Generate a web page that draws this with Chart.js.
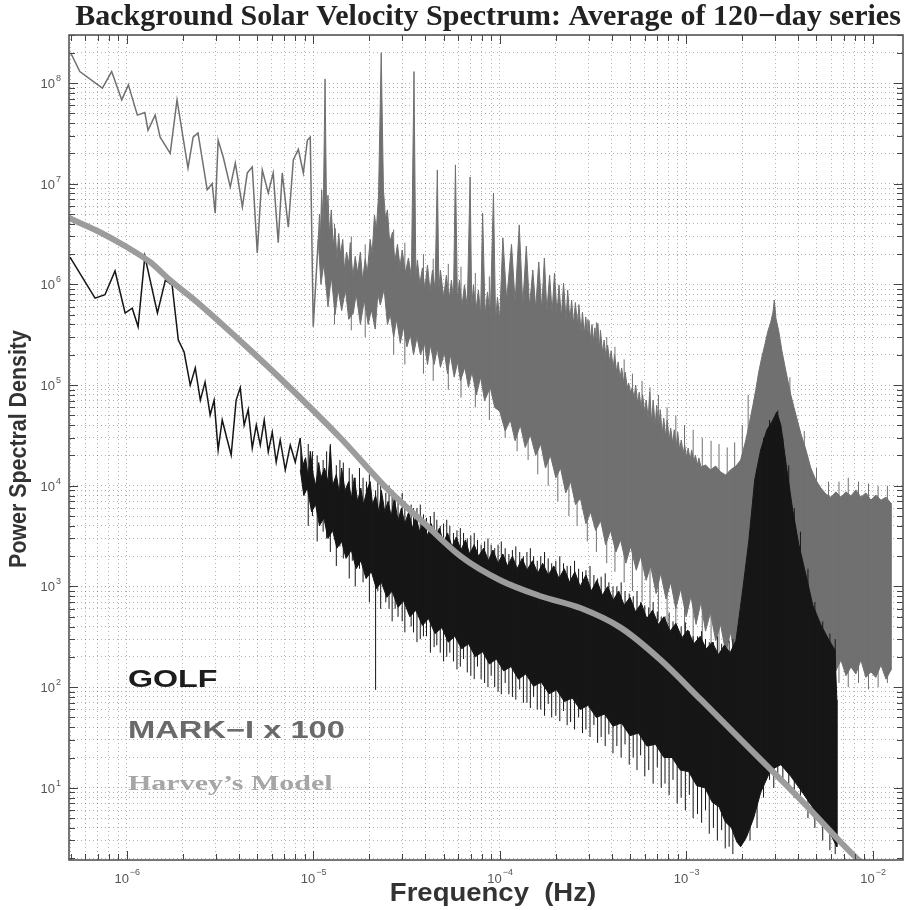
<!DOCTYPE html>
<html>
<head>
<meta charset="utf-8">
<script src="https://cdn.jsdelivr.net/npm/chart.js@4.4.0/dist/chart.umd.min.js"></script>
<style>
  html, body { margin: 0; padding: 0; background: #ffffff; }
  canvas { display: block; }
</style>
</head>
<body>
<canvas id="spectrum" width="909" height="910"></canvas>
<script>
// ---- Spectrum data: [frequency (Hz), power spectral density] ----

// MARK-I x 100, low-frequency part (single trace)
const markLow = [
  [5.0e-7, 2.0e8], [5.6e-7, 1.3e8], [7.4e-7, 8.9e7], [8.3e-7, 1.3e8], [9.4e-7, 6.8e7],
  [1.02e-6, 9.6e7], [1.14e-6, 4.8e7], [1.25e-6, 5.1e7], [1.30e-6, 3.4e7], [1.42e-6, 4.8e7],
  [1.51e-6, 2.9e7], [1.71e-6, 2.0e7], [1.86e-6, 6.8e7], [2.13e-6, 1.43e7], [2.27e-6, 2.9e7],
  [2.41e-6, 3.2e7], [2.70e-6, 8.7e6], [2.87e-6, 1.0e7], [2.98e-6, 5.1e6], [3.09e-6, 2.7e7],
  [3.29e-6, 1.84e7], [3.59e-6, 9.3e6], [3.82e-6, 1.6e7], [4.17e-6, 5.9e6], [4.43e-6, 1.28e7],
  [4.71e-6, 1.47e7], [5.01e-6, 2.05e6], [5.33e-6, 1.37e7], [5.74e-6, 8.1e6], [6.10e-6, 1.28e7],
  [6.49e-6, 2.6e6], [6.82e-6, 1.28e7], [7.35e-6, 3.7e6], [7.82e-6, 1.72e7], [8.32e-6, 2.2e7],
  [8.85e-6, 1.28e7], [9.30e-6, 2.7e7], [9.64e-6, 2.9e7], [1.0e-5, 3.8e5], [1.064e-5, 2.8e6]
];

// MARK-I x 100, upper edge of the dense part (daily harmonics show as spikes)
const markUpper = [
  [1.064e-5, 2.8e6], [1.08e-5, 5.0e6], [1.09e-5, 2.6e6], [1.11e-5, 8.7e6], [1.13e-5, 4.0e6],
  [1.157e-5, 1.1e8], [1.18e-5, 4.5e6], [1.20e-5, 7.7e6], [1.22e-5, 3.2e6], [1.25e-5, 5.5e6],
  [1.28e-5, 2.4e6], [1.31e-5, 3.6e6], [1.34e-5, 1.8e6], [1.37e-5, 3.2e6], [1.40e-5, 2.0e6],
  [1.44e-5, 2.8e6], [1.47e-5, 1.4e6], [1.51e-5, 2.1e6], [1.55e-5, 1.6e6], [1.58e-5, 2.6e6],
  [1.63e-5, 1.2e6], [1.68e-5, 1.9e6], [1.73e-5, 1.3e6], [1.79e-5, 2.1e6], [1.84e-5, 1.1e6],
  [1.90e-5, 1.8e6], [1.95e-5, 1.3e6], [2.02e-5, 2.8e6], [2.07e-5, 2.0e6], [2.13e-5, 4.9e6],
  [2.18e-5, 3.5e6], [2.24e-5, 7.7e6], [2.315e-5, 2.0e8], [2.38e-5, 8.7e6], [2.44e-5, 4.5e6],
  [2.50e-5, 5.5e6], [2.57e-5, 2.6e6], [2.66e-5, 3.3e6], [2.74e-5, 1.7e6], [2.83e-5, 2.5e6],
  [2.92e-5, 1.5e6], [3.0e-5, 2.2e6], [3.12e-5, 1.3e6], [3.24e-5, 1.83e6], [3.36e-5, 1.2e6],
  [3.47e-5, 1.3e8], [3.55e-5, 1.2e6], [3.62e-5, 1.75e6], [3.73e-5, 1.0e6], [3.85e-5, 1.46e6],
  [3.97e-5, 9.0e5], [4.10e-5, 1.56e6], [4.23e-5, 8.5e5], [4.36e-5, 1.39e6], [4.50e-5, 9.0e5],
  [4.63e-5, 1.37e7], [4.72e-5, 9.0e5], [4.81e-5, 1.39e6], [5.0e-5, 7.5e5], [5.18e-5, 1.24e6],
  [5.35e-5, 7.0e5], [5.51e-5, 1.1e6], [5.65e-5, 7.0e5], [5.79e-5, 1.54e7], [5.93e-5, 7.0e5],
  [6.08e-5, 1.1e6], [6.27e-5, 6.0e5], [6.47e-5, 9.9e5], [6.7e-5, 6.0e5], [6.94e-5, 1.17e7],
  [7.08e-5, 6.0e5], [7.23e-5, 9.9e5], [7.45e-5, 5.5e5], [7.69e-5, 8.8e5], [7.9e-5, 5.0e5],
  [8.10e-5, 5.1e6], [8.35e-5, 5.0e5], [8.6e-5, 8.4e5], [8.9e-5, 4.8e5], [9.26e-5, 8.1e6],
  [9.5e-5, 4.5e5], [9.73e-5, 7.5e5], [1.0e-4, 4.5e5], [1.04e-4, 2.9e6], [1.09e-4, 7.0e5],
  [1.157e-4, 2.5e6], [1.21e-4, 6.7e5], [1.273e-4, 3.9e6], [1.33e-4, 6.3e5], [1.389e-4, 2.4e6],
  [1.445e-4, 6.0e5], [1.505e-4, 1.39e6], [1.56e-4, 5.8e5], [1.62e-4, 1.67e6], [1.68e-4, 5.6e5],
  [1.736e-4, 1.83e6], [1.79e-4, 5.4e5], [1.852e-4, 1.24e6], [1.91e-4, 5.3e5], [1.968e-4, 1.3e6],
  [2.03e-4, 5.0e5], [2.08e-4, 9.9e5], [2.14e-4, 4.7e5], [2.20e-4, 1.03e6], [2.27e-4, 4.4e5],
  [2.315e-4, 8.8e5], [2.38e-4, 4.3e5], [2.43e-4, 7.0e5], [2.49e-4, 4.0e5], [2.546e-4, 6.6e5],
  [2.62e-4, 3.8e5], [2.66e-4, 6.3e5], [2.73e-4, 3.4e5], [2.78e-4, 5.3e5], [2.84e-4, 3.15e5],
  [2.894e-4, 4.75e5], [2.96e-4, 3.0e5], [3.01e-4, 4.4e5], [3.07e-4, 2.8e5], [3.125e-4, 4.0e5],
  [3.19e-4, 2.7e5], [3.24e-4, 3.7e5], [3.31e-4, 2.5e5], [3.36e-4, 4.1e5], [3.43e-4, 2.3e5],
  [3.47e-4, 3.5e5], [3.56e-4, 2.1e5], [3.63e-4, 2.8e5], [3.72e-4, 1.86e5], [3.79e-4, 2.5e5],
  [3.89e-4, 1.7e5], [3.96e-4, 2.2e5], [4.06e-4, 1.48e5], [4.13e-4, 2.0e5], [4.24e-4, 1.35e5],
  [4.32e-4, 1.7e5], [4.42e-4, 1.18e5], [4.51e-4, 1.48e5], [4.62e-4, 1.05e5], [4.71e-4, 1.35e5],
  [4.83e-4, 9.4e4], [4.91e-4, 1.05e5], [5.04e-4, 8.5e4], [5.13e-4, 9.4e4], [5.26e-4, 7.5e4],
  [5.36e-4, 1.0e5], [5.49e-4, 6.6e4], [5.60e-4, 8.5e4], [5.74e-4, 5.9e4], [5.84e-4, 8.0e4],
  [5.99e-4, 5.4e4], [6.10e-4, 7.1e4], [6.26e-4, 4.7e4], [6.37e-4, 8.5e4], [6.53e-4, 4.3e4],
  [6.65e-4, 7.1e4], [6.82e-4, 4.0e4], [6.95e-4, 6.3e4], [7.12e-4, 3.6e4], [7.26e-4, 5.7e4],
  [7.44e-4, 3.3e4], [7.58e-4, 4.7e4], [7.77e-4, 3.05e4], [7.91e-4, 4.5e4], [8.11e-4, 2.85e4],
  [8.26e-4, 3.75e4], [8.47e-4, 2.66e4], [8.63e-4, 3.6e4], [8.84e-4, 2.43e4], [9.01e-4, 3.4e4],
  [9.23e-4, 2.27e4], [9.41e-4, 2.85e4], [9.64e-4, 2.12e4], [9.82e-4, 2.54e4], [1.003e-3, 1.93e4],
  [1.025e-3, 2.37e4], [1.05e-3, 1.8e4], [1.07e-3, 2.27e4], [1.10e-3, 1.72e4], [1.12e-3, 2.02e4],
  [1.15e-3, 1.61e4], [1.17e-3, 1.89e4], [1.20e-3, 1.54e4], [1.27e-3, 1.61e4], [1.35e-3, 1.44e4],
  [1.44e-3, 1.57e4], [1.53e-3, 1.37e4], [1.63e-3, 1.28e4], [1.73e-3, 1.44e4], [1.85e-3, 1.57e4],
  [1.96e-3, 1.8e4], [2.09e-3, 2.85e4], [2.17e-3, 4.0e4], [2.28e-3, 6.3e4], [2.36e-3, 8.9e4],
  [2.45e-3, 1.35e5], [2.54e-3, 1.86e5], [2.64e-3, 2.5e5], [2.74e-3, 3.4e5], [2.84e-3, 4.2e5],
  [2.92e-3, 5.3e5], [2.97e-3, 7.0e5], [3.03e-3, 4.6e5], [3.14e-3, 3.4e5], [3.26e-3, 2.2e5],
  [3.42e-3, 1.4e5], [3.64e-3, 8.0e4], [3.88e-3, 5.05e4], [4.12e-3, 3.3e4], [4.39e-3, 2.27e4],
  [4.66e-3, 1.5e4], [4.96e-3, 1.14e4], [5.28e-3, 9.5e3], [5.61e-3, 8.3e3], [5.97e-3, 7.7e3],
  [6.35e-3, 8.7e3], [6.76e-3, 7.7e3], [7.19e-3, 8.7e3], [7.65e-3, 7.9e3], [8.13e-3, 9.1e3],
  [8.65e-3, 7.7e3], [9.2e-3, 8.5e3], [9.79e-3, 7.2e3], [1.04e-2, 8.1e3], [1.108e-2, 7.2e3],
  [1.18e-2, 7.7e3], [1.254e-2, 6.7e3]
];

// MARK-I x 100, lower edge of the dense part
const markLower = [
  [1.064e-5, 2.8e6], [1.10e-5, 1.0e6], [1.14e-5, 1.6e6], [1.20e-5, 6.0e5], [1.25e-5, 1.2e6],
  [1.31e-5, 5.0e5], [1.36e-5, 9.0e5], [1.42e-5, 5.5e5], [1.49e-5, 8.8e5], [1.55e-5, 4.5e5],
  [1.64e-5, 5.2e5], [1.70e-5, 8.0e5], [1.79e-5, 4.0e5], [1.88e-5, 7.0e5], [1.97e-5, 4.0e5],
  [2.05e-5, 5.6e5], [2.15e-5, 3.6e5], [2.22e-5, 8.0e5], [2.29e-5, 6.25e5], [2.40e-5, 9.0e5],
  [2.50e-5, 4.0e5], [2.59e-5, 5.0e5], [2.70e-5, 3.0e5], [2.80e-5, 4.5e5], [2.93e-5, 2.6e5],
  [3.05e-5, 3.8e5], [3.18e-5, 2.4e5], [3.32e-5, 3.15e5], [3.45e-5, 2.0e5], [3.6e-5, 3.0e5],
  [3.76e-5, 2.0e5], [3.95e-5, 2.6e5], [4.1e-5, 1.6e5], [4.25e-5, 2.5e5], [4.45e-5, 1.6e5],
  [4.63e-5, 2.3e5], [4.81e-5, 1.5e5], [5.05e-5, 2.1e5], [5.25e-5, 1.3e5], [5.44e-5, 2.0e5],
  [5.7e-5, 1.2e5], [5.95e-5, 1.7e5], [6.16e-5, 1.1e5], [6.5e-5, 1.5e5], [6.8e-5, 9.5e4],
  [7.1e-5, 1.35e5], [7.5e-5, 8.0e4], [7.9e-5, 1.2e5], [8.3e-5, 7.0e4], [8.9e-5, 9.5e4],
  [9.4e-5, 6.0e4], [1.0e-4, 5.5e4], [1.07e-4, 3.5e4], [1.14e-4, 4.5e4], [1.21e-4, 2.8e4],
  [1.29e-4, 4.0e4], [1.37e-4, 2.4e4], [1.46e-4, 3.2e4], [1.56e-4, 2.0e4], [1.66e-4, 2.6e4],
  [1.76e-4, 1.5e4], [1.87e-4, 2.0e4], [2.0e-4, 1.2e4], [2.12e-4, 1.5e4], [2.26e-4, 8.5e3],
  [2.40e-4, 1.1e4], [2.55e-4, 6.5e3], [2.71e-4, 7.5e3], [2.9e-4, 4.2e3], [3.07e-4, 5.5e3],
  [3.27e-4, 3.6e3], [3.48e-4, 4.5e3], [3.7e-4, 2.6e3], [3.93e-4, 3.6e3], [4.2e-4, 2.2e3],
  [4.45e-4, 2.9e3], [4.75e-4, 1.7e3], [5.04e-4, 2.5e3], [5.4e-4, 1.45e3], [5.7e-4, 2.0e3],
  [6.1e-4, 1.15e3], [6.45e-4, 1.6e3], [6.9e-4, 8.5e2], [7.3e-4, 1.35e3], [7.8e-4, 7.5e2],
  [8.26e-4, 1.1e3], [8.8e-4, 6.0e2], [9.35e-4, 9.5e2], [1.0e-3, 5.0e2], [1.06e-3, 8.0e2],
  [1.13e-3, 4.2e2], [1.20e-3, 7.0e2], [1.27e-3, 3.6e2], [1.35e-3, 5.5e2], [1.44e-3, 2.9e2],
  [1.53e-3, 4.2e2], [1.63e-3, 2.2e2], [1.73e-3, 3.5e2], [1.85e-3, 1.8e2], [1.96e-3, 2.3e2],
  [2.09e-3, 1.5e2], [2.22e-3, 1.86e2], [2.51e-3, 2.94e2], [2.84e-3, 4.65e2], [3.22e-3, 7.3e2],
  [3.64e-3, 5.8e2], [4.12e-3, 4.15e2], [4.4e-3, 2.6e2], [4.66e-3, 3.3e2], [4.96e-3, 2.0e2],
  [5.28e-3, 2.6e2], [5.6e-3, 1.6e2], [5.97e-3, 2.34e2], [6.35e-3, 1.45e2], [6.76e-3, 1.86e2],
  [7.2e-3, 1.3e2], [7.65e-3, 1.59e2], [8.13e-3, 1.35e2], [8.65e-3, 1.86e2], [9.2e-3, 1.25e2],
  [9.79e-3, 1.42e2], [1.04e-2, 1.25e2], [1.108e-2, 1.66e2], [1.18e-2, 1.2e2], [1.254e-2, 1.48e2]
];

// MARK-I x 100, single-bin excursions: [frequency, low, high]
const markSpikes = [
  [1.3e-5, 4.0e5, 4.0e6], [1.6e-5, 3.5e5, 3.0e6], [1.9e-5, 3.0e5, 2.5e6], [2.7e-5, 2.0e5, 3.5e6],
  [3.1e-5, 1.6e5, 2.6e6], [3.9e-5, 1.3e5, 2.0e6], [4.4e-5, 1.1e5, 1.8e6], [5.3e-5, 9.0e4, 1.6e6],
  [6.2e-5, 7.5e4, 1.5e6], [7.4e-5, 6.0e4, 1.3e6], [8.8e-5, 4.5e4, 1.2e6], [1.07e-4, 3.0e4, 1.0e6],
  [1.24e-4, 2.2e4, 9.0e5], [1.42e-4, 1.8e4, 8.0e5], [1.6e-4, 1.3e4, 7.5e5], [1.82e-4, 1.0e4, 7.0e5],
  [2.05e-4, 7.0e3, 6.5e5], [2.35e-4, 5.0e3, 5.5e5], [2.6e-4, 4.0e3, 5.0e5], [2.95e-4, 2.8e3, 4.5e5],
  [3.3e-4, 2.2e3, 4.2e5], [3.75e-4, 1.7e3, 3.0e5], [4.15e-4, 1.4e3, 2.4e5], [4.65e-4, 1.1e3, 1.8e5],
  [5.15e-4, 9.0e2, 1.3e5], [5.8e-4, 7.0e2, 1.1e5], [6.4e-4, 5.5e2, 9.5e4], [7.1e-4, 4.5e2, 8.0e4],
  [7.9e-4, 3.6e2, 6.0e4], [8.8e-4, 3.0e2, 5.0e4], [9.8e-4, 2.6e2, 4.0e4], [1.09e-3, 2.0e2, 3.6e4],
  [1.22e-3, 1.6e2, 3.0e4], [1.36e-3, 1.4e2, 2.8e4], [1.5e-3, 1.2e2, 2.6e4], [1.66e-3, 1.0e2, 2.4e4],
  [1.82e-3, 1.1e2, 2.7e4], [2.0e-3, 1.2e2, 4.0e4], [2.15e-3, 1.4e2, 8.0e4], [3.6e-3, 3.0e2, 1.2e5],
  [4.3e-3, 2.0e2, 3.5e4], [5.0e-3, 1.6e2, 1.5e4], [5.8e-3, 1.3e2, 1.1e4], [6.6e-3, 1.1e2, 1.1e4],
  [7.4e-3, 1.0e2, 1.2e4], [8.4e-3, 1.1e2, 1.1e4], [9.5e-3, 95, 1.05e4], [1.07e-2, 1.0e2, 1.0e4],
  [1.2e-2, 1.1e2, 1.0e4]
];

// GOLF, low-frequency part (single trace)
const golfLow = [
  [4.96e-7, 1.87e6], [6.76e-7, 7.3e5], [7.64e-7, 7.9e5], [8.65e-7, 1.36e6], [9.8e-7, 5.2e5],
  [1.07e-6, 5.8e5], [1.15e-6, 3.8e5], [1.25e-6, 1.9e6], [1.46e-6, 5.2e5], [1.61e-6, 1.1e6],
  [1.75e-6, 9.9e5], [1.89e-6, 2.8e5], [2.03e-6, 2.13e5], [2.19e-6, 1.0e5], [2.33e-6, 1.48e5],
  [2.48e-6, 7.1e4], [2.63e-6, 1.07e5], [2.80e-6, 5.05e4], [2.94e-6, 7.1e4], [3.09e-6, 2.27e4],
  [3.25e-6, 4.5e4], [3.46e-6, 2.85e4], [3.63e-6, 2.02e4], [3.86e-6, 7.1e4], [4.06e-6, 9.4e4],
  [4.26e-6, 4.0e4], [4.48e-6, 5.7e4], [4.71e-6, 2.37e4], [4.95e-6, 4.0e4], [5.20e-6, 2.54e4],
  [5.46e-6, 4.5e4], [5.74e-6, 2.17e4], [6.03e-6, 3.4e4], [6.33e-6, 1.72e4], [6.65e-6, 2.85e4],
  [7.08e-6, 1.44e4], [7.53e-6, 2.54e4], [8.01e-6, 1.72e4], [8.52e-6, 2.98e4]
];

// GOLF, upper edge of the dense part
const golfUpper = [
  [8.52e-6, 2.98e4], [8.8e-6, 1.6e4], [9.1e-6, 1.9e4], [9.4e-6, 1.2e4], [9.64e-6, 2.2e4],
  [1.0e-5, 1.3e4], [1.03e-5, 1.0e4], [1.07e-5, 1.7e4], [1.1e-5, 1.2e4], [1.15e-5, 1.5e4],
  [1.2e-5, 1.1e4], [1.235e-5, 2.5e4], [1.27e-5, 1.0e4], [1.33e-5, 1.3e4], [1.38e-5, 8.5e3],
  [1.42e-5, 1.5e4], [1.48e-5, 9.0e3], [1.55e-5, 1.1e4], [1.6e-5, 7.5e3], [1.66e-5, 1.2e4],
  [1.73e-5, 7.0e3], [1.8e-5, 9.5e3], [1.86e-5, 6.5e3], [1.94e-5, 9.0e3], [2.02e-5, 1.1e4],
  [2.08e-5, 6.5e3], [2.16e-5, 8.0e3], [2.25e-5, 5.5e3], [2.32e-5, 9.0e3], [2.42e-5, 5.5e3],
  [2.52e-5, 7.0e3], [2.62e-5, 5.0e3], [2.72e-5, 7.5e3], [2.85e-5, 4.5e3], [2.97e-5, 6.0e3],
  [3.1e-5, 4.2e3], [3.25e-5, 5.5e3], [3.4e-5, 3.8e3], [3.55e-5, 5.0e3], [3.72e-5, 3.5e3],
  [3.9e-5, 4.5e3], [4.1e-5, 3.2e3], [4.3e-5, 4.2e3], [4.5e-5, 3.0e3], [4.75e-5, 3.8e3],
  [5.0e-5, 2.7e3], [5.25e-5, 3.4e3], [5.55e-5, 2.5e3], [5.85e-5, 3.1e3], [6.2e-5, 2.3e3],
  [6.55e-5, 2.9e3], [6.9e-5, 2.1e3], [7.3e-5, 2.6e3], [7.7e-5, 2.0e3], [8.2e-5, 2.4e3],
  [8.7e-5, 1.8e3], [9.2e-5, 2.3e3], [9.8e-5, 1.7e3], [1.04e-4, 2.1e3], [1.1e-4, 1.6e3],
  [1.17e-4, 2.0e3], [1.24e-4, 1.5e3], [1.32e-4, 1.9e3], [1.4e-4, 1.45e3], [1.5e-4, 1.8e3],
  [1.6e-4, 1.35e3], [1.7e-4, 1.7e3], [1.82e-4, 1.3e3], [1.95e-4, 1.6e3], [2.08e-4, 1.2e3],
  [2.22e-4, 1.5e3], [2.37e-4, 1.1e3], [2.53e-4, 1.4e3], [2.7e-4, 1.0e3], [2.9e-4, 1.3e3],
  [3.1e-4, 9.0e2], [3.32e-4, 1.15e3], [3.55e-4, 8.2e2], [3.8e-4, 1.0e3], [4.06e-4, 7.3e2],
  [4.35e-4, 9.0e2], [4.65e-4, 6.5e2], [5.0e-4, 7.8e2], [5.35e-4, 5.6e2], [5.75e-4, 6.8e2],
  [6.15e-4, 4.8e2], [6.6e-4, 5.8e2], [7.1e-4, 4.2e2], [7.6e-4, 5.0e2], [8.2e-4, 3.6e2],
  [8.8e-4, 4.3e2], [9.5e-4, 3.1e2], [1.02e-3, 3.7e2], [1.1e-3, 2.7e2], [1.19e-3, 3.2e2],
  [1.28e-3, 2.4e2], [1.38e-3, 2.8e2], [1.49e-3, 2.1e2], [1.6e-3, 2.6e2], [1.72e-3, 2.2e2],
  [1.85e-3, 2.9e2], [2.01e-3, 9.2e2], [2.17e-3, 2.9e3], [2.33e-3, 1.14e4], [2.51e-3, 2.27e4],
  [2.71e-3, 3.58e4], [2.92e-3, 4.5e4], [3.06e-3, 5.4e4], [3.22e-3, 4.0e4], [3.47e-3, 1.44e4],
  [3.73e-3, 5.7e3], [4.02e-3, 2.6e3], [4.39e-3, 1.30e3], [4.78e-3, 6.5e2], [5.28e-3, 4.15e2],
  [5.83e-3, 2.94e2], [6.28e-3, 2.34e2], [6.43e-3, 75]
];

// GOLF, lower edge of the dense part
const golfLower = [
  [8.52e-6, 1.44e4], [8.9e-6, 8.0e3], [9.3e-6, 9.5e3], [9.8e-6, 5.5e3], [1.03e-5, 6.5e3],
  [1.08e-5, 4.0e3], [1.14e-5, 4.8e3], [1.2e-5, 3.0e3], [1.27e-5, 3.6e3], [1.34e-5, 2.4e3],
  [1.42e-5, 2.8e3], [1.5e-5, 1.9e3], [1.6e-5, 2.3e3], [1.7e-5, 1.5e3], [1.8e-5, 1.8e3],
  [1.92e-5, 1.2e3], [2.05e-5, 1.4e3], [2.18e-5, 9.5e2], [2.32e-5, 1.1e3], [2.48e-5, 7.8e2],
  [2.65e-5, 9.0e2], [2.85e-5, 6.2e2], [3.05e-5, 7.2e2], [3.3e-5, 5.0e2], [3.55e-5, 5.8e2],
  [3.85e-5, 4.1e2], [4.15e-5, 4.8e2], [4.5e-5, 3.4e2], [4.9e-5, 3.9e2], [5.3e-5, 2.8e2],
  [5.75e-5, 3.2e2], [6.25e-5, 2.4e2], [6.8e-5, 2.7e2], [7.4e-5, 2.0e2], [8.1e-5, 2.25e2],
  [8.8e-5, 1.7e2], [9.6e-5, 1.9e2], [1.05e-4, 1.45e2], [1.15e-4, 1.6e2], [1.26e-4, 1.2e2],
  [1.38e-4, 1.35e2], [1.52e-4, 1.02e2], [1.67e-4, 1.12e2], [1.84e-4, 86], [2.02e-4, 94],
  [2.22e-4, 72], [2.45e-4, 78], [2.7e-4, 60], [2.98e-4, 66], [3.3e-4, 50],
  [3.65e-4, 54], [4.05e-4, 41], [4.5e-4, 44], [5.0e-4, 33], [5.55e-4, 35],
  [6.15e-4, 26], [6.85e-4, 27], [7.6e-4, 20], [8.4e-4, 20], [9.3e-4, 15],
  [1.03e-3, 14.5], [1.14e-3, 10.5], [1.26e-3, 10], [1.38e-3, 7.2], [1.5e-3, 6.5],
  [1.62e-3, 4.6], [1.75e-3, 4.0], [1.87e-3, 2.9], [1.96e-3, 2.6], [2.1e-3, 3.2],
  [2.3e-3, 5.0], [2.51e-3, 9.0], [2.84e-3, 15], [3.22e-3, 17], [3.64e-3, 13],
  [4.12e-3, 9.5], [4.66e-3, 6.8], [5.28e-3, 4.8], [5.97e-3, 3.4], [6.43e-3, 2.6]
];

// GOLF, single-bin excursions: [frequency, low, high]
const golfSpikes = [
  [9.4e-6, 4.0e3, 2.6e4], [9.9e-6, 5.0e3, 2.2e4], [1.05e-5, 2.8e3, 2.0e4], [1.13e-5, 3.5e3, 1.8e4],
  [1.18e-5, 3.0e3, 2.2e4], [1.235e-5, 2.2e3, 2.6e4], [1.33e-5, 1.6e3, 1.6e4], [1.39e-5, 2.5e3, 1.8e4],
  [1.45e-5, 1.9e3, 1.7e4], [1.56e-5, 1.2e3, 1.5e4], [1.62e-5, 1.8e3, 1.3e4], [1.68e-5, 1.0e3, 1.2e4],
  [1.77e-5, 1.5e3, 1.5e4], [1.85e-5, 1.1e3, 1.2e4], [1.93e-5, 1.2e3, 1.1e4], [2.0e-5, 7.0e2, 1.3e4],
  [2.16e-5, 94, 9.0e3], [2.22e-5, 9.0e2, 1.2e4], [2.3e-5, 6.0e2, 1.0e4], [2.45e-5, 7.0e2, 8.5e3],
  [2.55e-5, 6.0e2, 1.0e4], [2.65e-5, 4.5e2, 9.0e3], [2.75e-5, 6.0e2, 8.0e3], [2.85e-5, 5.0e2, 7.5e3],
  [3.0e-5, 4.5e2, 8.5e3], [3.1e-5, 3.5e2, 7.0e3], [3.35e-5, 4.0e2, 6.5e3], [3.45e-5, 3.5e2, 6.0e3],
  [3.6e-5, 2.8e2, 6.0e3], [3.75e-5, 3.0e2, 6.5e3], [3.9e-5, 3.2e2, 5.2e3], [4.05e-5, 3.2e2, 4.8e3],
  [4.25e-5, 2.2e2, 5.0e3], [4.45e-5, 2.5e2, 5.5e3], [4.6e-5, 2.6e2, 4.6e3], [4.8e-5, 2.2e2, 4.0e3],
  [5.0e-5, 1.8e2, 4.2e3], [5.2e-5, 2.0e2, 4.6e3], [5.4e-5, 2.2e2, 4.0e3], [5.65e-5, 1.8e2, 3.4e3],
  [5.9e-5, 1.5e2, 3.6e3], [6.15e-5, 1.6e2, 3.8e3], [6.4e-5, 1.9e2, 3.4e3], [6.7e-5, 1.4e2, 3.0e3],
  [7.0e-5, 1.3e2, 3.2e3], [7.3e-5, 1.2e2, 3.4e3], [7.6e-5, 1.6e2, 2.9e3], [7.95e-5, 1.2e2, 2.6e3],
  [8.3e-5, 1.1e2, 2.8e3], [8.65e-5, 1.0e2, 3.0e3], [9.0e-5, 1.3e2, 2.6e3], [9.4e-5, 1.0e2, 2.4e3],
  [9.8e-5, 90, 2.6e3], [1.02e-4, 85, 2.8e3], [1.07e-4, 1.1e2, 2.4e3], [1.12e-4, 85, 2.1e3],
  [1.17e-4, 80, 2.3e3], [1.22e-4, 75, 2.5e3], [1.28e-4, 95, 2.2e3], [1.34e-4, 70, 2.0e3],
  [1.4e-4, 70, 2.2e3], [1.46e-4, 62, 2.4e3], [1.52e-4, 80, 2.0e3], [1.59e-4, 60, 1.8e3],
  [1.66e-4, 60, 2.0e3], [1.74e-4, 52, 2.2e3], [1.82e-4, 68, 1.9e3], [1.9e-4, 50, 1.7e3],
  [2.0e-4, 52, 1.8e3], [2.1e-4, 46, 2.0e3], [2.2e-4, 58, 1.7e3], [2.3e-4, 42, 1.6e3],
  [2.4e-4, 45, 1.6e3], [2.52e-4, 38, 1.8e3], [2.65e-4, 50, 1.5e3], [2.78e-4, 35, 1.4e3],
  [2.9e-4, 38, 1.45e3], [3.05e-4, 32, 1.6e3], [3.2e-4, 42, 1.3e3], [3.35e-4, 28, 1.2e3],
  [3.5e-4, 32, 1.25e3], [3.68e-4, 26, 1.35e3], [3.85e-4, 34, 1.1e3], [4.05e-4, 22, 1.0e3],
  [4.25e-4, 26, 1.0e3], [4.48e-4, 20, 1.1e3], [4.7e-4, 27, 9.0e2], [4.95e-4, 17, 8.5e2],
  [5.2e-4, 20, 8.0e2], [5.45e-4, 15, 9.0e2], [5.7e-4, 21, 7.0e2], [6.0e-4, 13, 6.5e2],
  [6.3e-4, 15, 6.2e2], [6.65e-4, 11, 7.0e2], [7.0e-4, 16, 5.6e2], [7.35e-4, 10, 5.0e2],
  [7.7e-4, 11, 5.0e2], [8.1e-4, 8.5, 5.5e2], [8.5e-4, 12, 4.5e2], [8.95e-4, 7.0, 4.0e2],
  [9.4e-4, 8.0, 4.0e2], [9.9e-4, 6.0, 4.4e2], [1.04e-3, 8.5, 3.6e2], [1.09e-3, 5.0, 3.2e2],
  [1.15e-3, 5.5, 3.2e2], [1.21e-3, 4.5, 3.6e2], [1.27e-3, 6.0, 3.0e2], [1.33e-3, 3.5, 2.8e2],
  [1.4e-3, 4.0, 2.8e2], [1.47e-3, 3.0, 3.2e2], [1.55e-3, 3.8, 2.7e2], [1.62e-3, 2.5, 2.6e2],
  [1.7e-3, 2.6, 2.9e2], [1.78e-3, 2.2, 3.0e2], [2.2e-3, 3.0, 3.5e3], [2.4e-3, 4.0, 1.5e4],
  [2.6e-3, 8.0, 3.0e4], [2.8e-3, 12, 4.5e4], [2.95e-3, 10, 4.0e4], [3.1e-3, 14, 5.6e4],
  [3.3e-3, 12, 3.0e4], [3.55e-3, 10, 1.6e4], [3.8e-3, 8.0, 6.0e3], [4.1e-3, 7.0, 3.5e3],
  [4.5e-3, 5.0, 1.5e3], [4.9e-3, 4.0, 7.0e2], [5.4e-3, 3.0, 4.5e2], [5.9e-3, 2.4, 3.4e2],
  [6.3e-3, 2.2, 3.0e2]
];

// Harvey's model of the solar background
const harvey = [
  [4.9e-7, 4.56e6], [7.19e-7, 3.3e6], [1.0e-6, 2.35e6], [1.33e-6, 1.67e6], [1.71e-6, 1.1e6],
  [2.48e-6, 6.25e5], [4.59e-6, 2.23e5], [7.53e-6, 9.36e4], [1.40e-5, 2.98e4], [2.44e-5, 9.7e3],
  [3.76e-5, 4.6e3], [6.16e-5, 2.0e3], [1.0e-4, 1.16e3], [1.66e-4, 8.0e2], [2.71e-4, 6.1e2],
  [4.45e-4, 3.9e2], [7.3e-4, 1.86e2], [1.2e-3, 75], [2.22e-3, 24], [4.12e-3, 7.6],
  [8.44e-3, 1.9], [1.04e-2, 1.37]
];

// Axis decades (tick labels are 10^n) and legend entries
const xDecades = [-6, -5, -4, -3, -2];
const yDecades = [1, 2, 3, 4, 5, 6, 7, 8];
const legendEntries = ['GOLF', 'MARK\u2212I x 100', 'Harvey\u2019s Model'];
const titleText = 'Background Solar Velocity Spectrum: Average of 120\u2212day series';
const xTitle = 'Frequency  (Hz)';
const yTitle = 'Power Spectral Density';

// ---- helpers ----
const toPoints = arr => arr.map(([x, y]) => ({ x, y }));
// closed outline: upper edge left->right, then lower edge right->left
const band = (upper, lower) => toPoints(upper).concat(toPoints(lower).reverse());
// vertical strokes low->high, separated by gaps
const strokes = arr => arr.flatMap(([x, lo, hi]) => [{ x, y: lo }, { x, y: hi }, { x, y: null }]);

function logTicks(minExp, maxExp, lo, hi) {
  const out = [];
  for (let e = minExp; e <= maxExp; e++) {
    for (let k = 1; k <= 9; k++) {
      const v = k * Math.pow(10, e);
      if (v >= lo * 0.999 && v <= hi * 1.001) out.push({ value: v, major: k === 1 });
    }
  }
  return out;
}

const X_MIN = 4.9e-7, X_MAX = 1.455e-2;
const Y_MIN = 1.92, Y_MAX = 3.0e8;

const MARK_COLOR = '#707070';
const GOLF_COLOR = '#161616';
const HARVEY_COLOR = '#9c9c9c';
const SANS = '"Liberation Sans", Arial, sans-serif';
const SERIF = '"Liberation Serif", "Times New Roman", serif';

// ---- decorations drawn around the plot box ----
const frame = {
  id: 'frame',
  afterDatasetsDraw(chart) {
    const { ctx, chartArea: a, scales } = chart;
    ctx.save();
    // inward ticks on all four sides
    ctx.strokeStyle = '#444';
    ctx.lineWidth = 1;
    scales.x.ticks.forEach(t => {
      const px = Math.round(scales.x.getPixelForValue(t.value)) + 0.5;
      const len = t.major ? 9 : 6;
      ctx.beginPath();
      ctx.moveTo(px, a.bottom); ctx.lineTo(px, a.bottom - len);
      ctx.moveTo(px, a.top); ctx.lineTo(px, a.top + len);
      ctx.stroke();
    });
    scales.y.ticks.forEach(t => {
      const py = Math.round(scales.y.getPixelForValue(t.value)) + 0.5;
      const len = t.major ? 9 : 6;
      ctx.beginPath();
      ctx.moveTo(a.left, py); ctx.lineTo(a.left + len, py);
      ctx.moveTo(a.right, py); ctx.lineTo(a.right - len, py);
      ctx.stroke();
    });
    // box
    ctx.strokeStyle = '#555';
    ctx.lineWidth = 1.6;
    ctx.strokeRect(a.left, a.top, a.right - a.left, a.bottom - a.top);
    ctx.restore();
  },
  afterDraw(chart) {
    const { ctx, chartArea: a, scales } = chart;
    ctx.save();
    ctx.fillStyle = '#555';
    ctx.textBaseline = 'alphabetic';
    // x tick labels 10^n
    xDecades.forEach(e => {
      const px = scales.x.getPixelForValue(Math.pow(10, e));
      const exp = String(e).replace('-', '\u2212');
      ctx.font = '13px ' + SANS;
      const w1 = ctx.measureText('10').width;
      ctx.font = '9px ' + SANS;
      const w2 = ctx.measureText(exp).width;
      const x0 = px - (w1 + w2) / 2;
      ctx.font = '13px ' + SANS;
      ctx.fillText('10', x0, a.bottom + 23);
      ctx.font = '9px ' + SANS;
      ctx.fillText(exp, x0 + w1 + 1, a.bottom + 15);
    });
    // y tick labels 10^n
    yDecades.forEach(e => {
      const py = scales.y.getPixelForValue(Math.pow(10, e));
      const exp = String(e);
      ctx.font = '9px ' + SANS;
      const w2 = ctx.measureText(exp).width;
      ctx.font = '13px ' + SANS;
      const w1 = ctx.measureText('10').width;
      const right = a.left - 8;
      ctx.fillText('10', right - w2 - w1 - 1, py + 5);
      ctx.font = '9px ' + SANS;
      ctx.fillText(exp, right - w2, py - 2);
    });

    // title
    ctx.fillStyle = '#222';
    ctx.textAlign = 'center';
    ctx.font = 'bold 30px ' + SERIF;
    ctx.fillText(titleText, 488, 25);

    // axis titles
    ctx.fillStyle = '#333';
    ctx.save();
    ctx.translate(493, 901);
    ctx.scale(1.1, 1);
    ctx.font = 'bold 25px ' + SANS;
    ctx.fillText(xTitle, 0, 0);
    ctx.restore();

    ctx.save();
    ctx.translate(26, 449);
    ctx.rotate(-Math.PI / 2);
    ctx.scale(0.93, 1);
    ctx.font = 'bold 23px ' + SANS;
    ctx.fillText(yTitle, 0, 0);
    ctx.restore();

    // legend text inside the plot
    ctx.textAlign = 'left';
    const entries = [
      { text: legendEntries[0], color: '#1c1c1c', y: 687, font: 'bold 23px ' + SANS, sx: 1.4 },
      { text: legendEntries[1], color: '#6a6a6a', y: 738, font: 'bold 23px ' + SANS, sx: 1.42 },
      { text: legendEntries[2], color: '#a6a6a6', y: 790, font: 'bold 20px ' + SERIF, sx: 1.5 }
    ];
    entries.forEach(en => {
      ctx.save();
      ctx.translate(a.left + 59, en.y);
      ctx.scale(en.sx, 1);
      ctx.fillStyle = en.color;
      ctx.font = en.font;
      ctx.fillText(en.text, 0, 0);
      ctx.restore();
    });
    ctx.restore();
  }
};

const gridOpts = {
  color: 'rgba(0,0,0,0.30)',
  lineWidth: 1,
  drawTicks: false
};

const lineDefaults = { pointRadius: 0, fill: false };

new Chart(document.getElementById('spectrum'), {
  type: 'line',
  data: {
    datasets: [
      {
        ...lineDefaults,
        label: legendEntries[2],
        data: toPoints(harvey),
        borderColor: HARVEY_COLOR,
        borderWidth: 6,
        cubicInterpolationMode: 'monotone'
      },
      {
        ...lineDefaults,
        label: legendEntries[0] + ' excursions',
        data: strokes(golfSpikes),
        borderColor: GOLF_COLOR,
        borderWidth: 1,
        spanGaps: false
      },
      {
        ...lineDefaults,
        label: legendEntries[0],
        data: toPoints(golfLow),
        borderColor: GOLF_COLOR,
        borderWidth: 1.5
      },
      {
        ...lineDefaults,
        label: legendEntries[0] + ' band',
        data: band(golfUpper, golfLower),
        borderColor: GOLF_COLOR,
        backgroundColor: GOLF_COLOR,
        borderWidth: 1,
        fill: 'shape'
      },
      {
        ...lineDefaults,
        label: legendEntries[1] + ' excursions',
        data: strokes(markSpikes),
        borderColor: MARK_COLOR,
        borderWidth: 1,
        spanGaps: false
      },
      {
        ...lineDefaults,
        label: legendEntries[1],
        data: toPoints(markLow),
        borderColor: MARK_COLOR,
        borderWidth: 1.5
      },
      {
        ...lineDefaults,
        label: legendEntries[1] + ' band',
        data: band(markUpper, markLower),
        borderColor: MARK_COLOR,
        backgroundColor: MARK_COLOR,
        borderWidth: 1,
        fill: 'shape'
      }
    ]
  },
  options: {
    responsive: false,
    animation: false,
    devicePixelRatio: 1,
    layout: { padding: { left: 69, top: 35, right: 6, bottom: 50 } },
    elements: { line: { tension: 0 } },
    plugins: {
      legend: { display: false },
      tooltip: { enabled: false },
      title: { display: false }
    },
    scales: {
      x: {
        type: 'logarithmic',
        min: X_MIN,
        max: X_MAX,
        ticks: { display: false },
        grid: gridOpts,
        border: { display: false, dash: [1, 3] },
        afterBuildTicks: s => { s.ticks = logTicks(-7, -2, X_MIN, X_MAX); }
      },
      y: {
        type: 'logarithmic',
        min: Y_MIN,
        max: Y_MAX,
        ticks: { display: false },
        grid: gridOpts,
        border: { display: false, dash: [1, 3] },
        afterBuildTicks: s => { s.ticks = logTicks(0, 8, Y_MIN, Y_MAX); }
      }
    }
  },
  plugins: [frame]
});
</script>
</body>
</html>
